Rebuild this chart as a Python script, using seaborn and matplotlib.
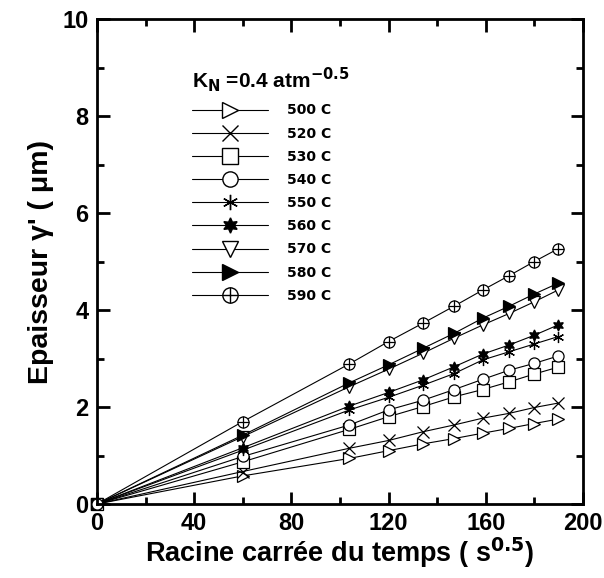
import matplotlib
matplotlib.use("Agg")
import matplotlib.pyplot as plt
import seaborn as sns
import pandas as pd
from matplotlib.lines import Line2D
from matplotlib.legend_handler import HandlerTuple
from matplotlib.ticker import MultipleLocator

# racine carree du temps (s^0.5) : 0, 1h, 3h, 4h ... 10h
temps = [0, 60, 103.9, 120, 134.2, 147.0, 158.7, 169.7, 180, 189.7]

temperatures = ["500 C", "520 C", "530 C", "540 C", "550 C",
                "560 C", "570 C", "580 C", "590 C"]

ep_500 = [0, 0.58, 0.94, 1.10, 1.24, 1.35, 1.46, 1.56, 1.66, 1.75]
ep_520 = [0, 0.67, 1.15, 1.31, 1.49, 1.63, 1.77, 1.87, 1.99, 2.08]
ep_530 = [0, 0.87, 1.54, 1.80, 2.01, 2.21, 2.36, 2.52, 2.68, 2.82]
ep_540 = [0, 0.98, 1.63, 1.94, 2.14, 2.36, 2.57, 2.76, 2.90, 3.05]
ep_550 = [0, 1.11, 1.94, 2.20, 2.45, 2.69, 2.97, 3.14, 3.30, 3.45]
ep_560 = [0, 1.16, 2.02, 2.30, 2.56, 2.83, 3.09, 3.28, 3.48, 3.69]
ep_570 = [0, 1.39, 2.42, 2.78, 3.11, 3.42, 3.69, 3.93, 4.17, 4.41]
ep_580 = [0, 1.42, 2.50, 2.87, 3.21, 3.52, 3.83, 4.08, 4.33, 4.55]
ep_590 = [0, 1.70, 2.89, 3.35, 3.73, 4.08, 4.41, 4.71, 5.00, 5.26]

series = [ep_500, ep_520, ep_530, ep_540, ep_550, ep_560, ep_570, ep_580, ep_590]

# style de chaque courbe : marqueur, remplissage
styles = [
    dict(marker=">", mfc="white"),
    dict(marker="x", mfc="black"),
    dict(marker="s", mfc="white"),
    dict(marker="o", mfc="white"),
    dict(marker=(6, 2, 0), mfc="black"),
    dict(marker=(6, 1, 0), mfc="black"),
    dict(marker="v", mfc="white"),
    dict(marker=">", mfc="black"),
    dict(marker="o", mfc="white"),
]

sns.set_style("ticks")
plt.rcParams["font.family"] = ["Liberation Sans", "DejaVu Sans"]
plt.rcParams["font.weight"] = "bold"
for k in ["text.color", "axes.labelcolor", "xtick.color", "ytick.color", "axes.edgecolor"]:
    plt.rcParams[k] = "black"

fig = plt.figure(figsize=(6.04, 5.78), dpi=100)
ax = fig.add_axes([0.1606, 0.128, 0.8044, 0.839])

handles = []
for temp, ep, st in zip(temperatures, series, styles):
    df = pd.DataFrame({"temps": temps, "epaisseur": ep})
    sns.lineplot(data=df, x="temps", y="epaisseur", ax=ax, color="black",
                 lw=0.8, marker=st["marker"], ms=8, mfc=st["mfc"], mec="black",
                 mew=0.9, estimator=None, sort=False, clip_on=False)
    h = Line2D([], [], color="black", lw=0.8, marker=st["marker"], ms=11,
               mfc=st["mfc"], mec="black", mew=1.0)
    handles.append(h)

# 590 C : cercle barre d'une croix
df590 = pd.DataFrame({"temps": temps, "epaisseur": ep_590})
sns.scatterplot(data=df590, x="temps", y="epaisseur", ax=ax, marker="+",
                s=70, color="black", linewidth=0.9, zorder=5)
handles[-1] = (handles[-1], Line2D([], [], ls="none", marker="+", ms=11,
                                    color="black", mew=1.0))

ax.set_xlim(0, 200)
ax.set_ylim(0, 10)
ax.xaxis.set_major_locator(MultipleLocator(40))
ax.xaxis.set_minor_locator(MultipleLocator(20))
ax.yaxis.set_major_locator(MultipleLocator(2))
ax.yaxis.set_minor_locator(MultipleLocator(1))
ax.tick_params(which="both", direction="in", top=True, right=True, width=2)
ax.tick_params(which="major", length=9, labelsize=17, pad=6)
ax.tick_params(which="minor", length=5)
for lab in ax.get_xticklabels() + ax.get_yticklabels():
    lab.set_fontweight("bold")
for sp in ax.spines.values():
    sp.set_linewidth(2)
    sp.set_visible(True)

ax.set_xlabel("Racine carrée du temps ( s$^{0.5}$)", fontsize=19.5,
              fontweight="bold", labelpad=0)
ax.set_ylabel("Epaisseur γ' ( μm)", fontsize=20.5,
              fontweight="bold", labelpad=6)

leg = ax.legend(handles, temperatures, loc="upper left",
                bbox_to_anchor=(0.17, 0.93), frameon=False,
                title="K$_\\mathrm{N}$ =0.4 atm$^{-0.5}$", handlelength=5.5,
                handletextpad=1.3, labelspacing=0.66,
                prop={"family": "DejaVu Sans", "weight": "bold", "size": 10},
                handler_map={tuple: HandlerTuple(ndivide=1, pad=0)})
leg.get_title().set_fontsize(15)
leg.get_title().set_fontweight("bold")
leg._legend_box.align = "left"

fig.savefig("out.png", dpi=100)
